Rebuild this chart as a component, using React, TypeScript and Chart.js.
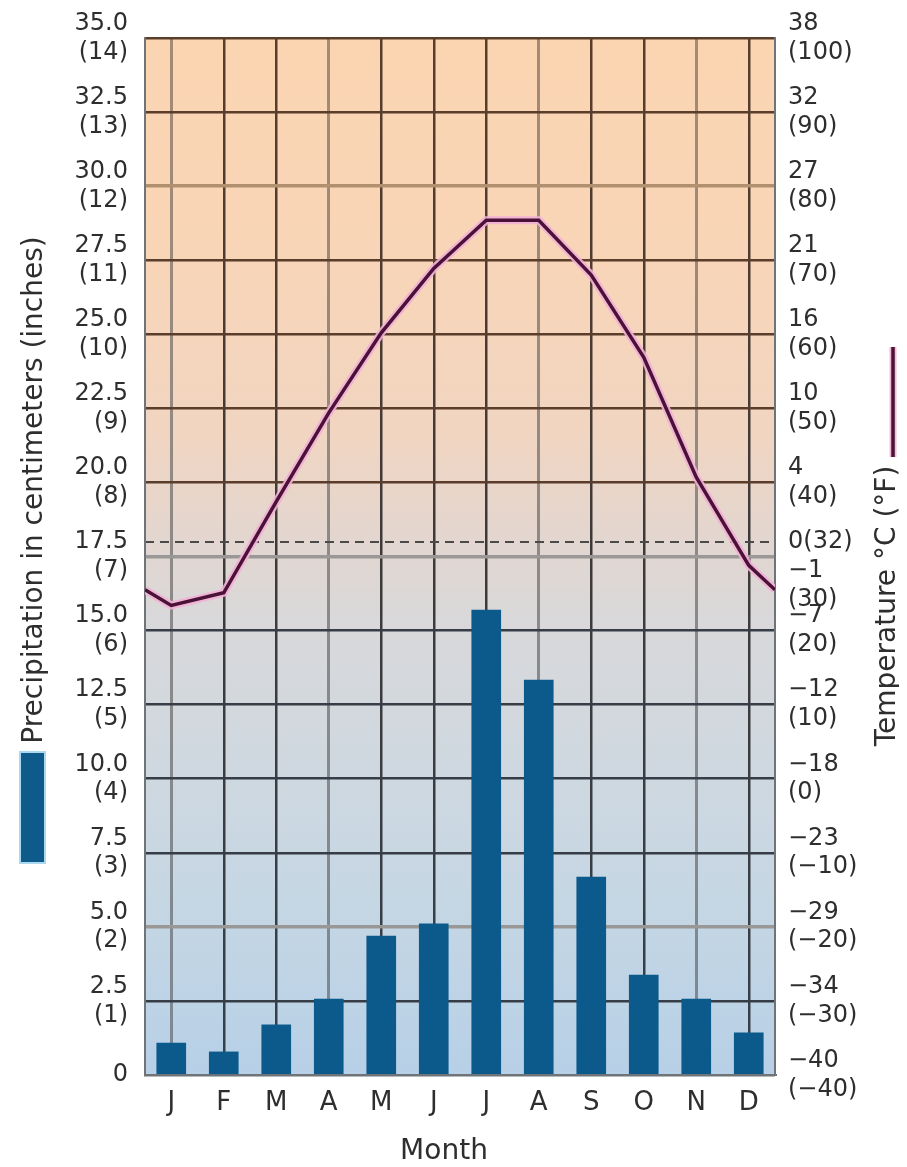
import React, { useEffect, useRef } from "react";
import { Chart, registerables } from "chart.js";

Chart.register(...registerables);

// ---------- data ----------
const months = ["J", "F", "M", "A", "M", "J", "J", "A", "S", "O", "N", "D"];
// precipitation, centimetres
const precipCm = [1.08, 0.78, 1.69, 2.56, 4.69, 5.1, 15.69, 13.33, 6.68, 3.37, 2.56, 1.42];
// mean monthly temperature, °F
const tempF = [23.4, 25.1, 37.4, 49.4, 60.2, 68.9, 75.4, 75.4, 68.0, 56.9, 40.7, 28.8];
// temperature curve where it meets the left and right frame (°F)
const tempEdgeF = [25.5, 25.5];

// left axis ticks
const precipTicks = [0, 2.5, 5, 7.5, 10, 12.5, 15, 17.5, 20, 22.5, 25, 27.5, 30, 32.5, 35];
const precipCmLabels = ["0", "2.5", "5.0", "7.5", "10.0", "12.5", "15.0", "17.5", "20.0", "22.5", "25.0", "27.5", "30.0", "32.5", "35.0"];
const precipInchLabels = ["", "(1)", "(2)", "(3)", "(4)", "(5)", "(6)", "(7)", "(8)", "(9)", "(10)", "(11)", "(12)", "(13)", "(14)"];

// right axis ticks (°F positions) and °C labels
const tempTicksF = [-40, -30, -20, -10, 0, 10, 20, 30, 32, 40, 50, 60, 70, 80, 90, 100];
const tempTicksC = ["−40", "−34", "−29", "−23", "−18", "−12", "−7", "−1", "0", "4", "10", "16", "21", "27", "32", "38"];
const tempTicksFLabels = ["(−40)", "(−30)", "(−20)", "(−10)", "(0)", "(10)", "(20)", "(30)", "(32)", "(40)", "(50)", "(60)", "(70)", "(80)", "(90)", "(100)"];

const FONT = "'DejaVu Sans', 'Liberation Sans', sans-serif";
const TEXT = "#2e2e2e";

const W = 891;
const H = 1151;

export default function App() {
  const ref = useRef<HTMLCanvasElement | null>(null);

  useEffect(() => {
    const canvas = ref.current;
    if (!canvas) return;

    const lineData = [
      { x: 0, y: tempEdgeF[0] },
      ...tempF.map((v, i) => ({ x: i + 0.5, y: v })),
      { x: 12, y: tempEdgeF[1] },
    ];

    const vGrad = (c: any, stops: [number, string][], fallback: string) => {
      const chart = c.chart;
      const area = chart.chartArea;
      if (!area) return fallback;
      const g = chart.ctx.createLinearGradient(0, area.top, 0, area.bottom);
      stops.forEach(([o, col]) => g.addColorStop(o, col));
      return g;
    };

    const bgPlugin = {
      id: "bgPlugin",
      beforeDraw(chart: any) {
        const { ctx, chartArea } = chart;
        if (!chartArea) return;
        const g = ctx.createLinearGradient(0, chartArea.top, 0, chartArea.bottom);
        g.addColorStop(0, "#fbd5b2");
        g.addColorStop(0.2, "#f9d5b7");
        g.addColorStop(0.38, "#f1d5c1");
        g.addColorStop(0.48, "#e3d6cf");
        g.addColorStop(0.56, "#d9d8da");
        g.addColorStop(0.7, "#cfd8e0");
        g.addColorStop(0.85, "#c4d6e4");
        g.addColorStop(1, "#b7d0e7");
        ctx.save();
        ctx.fillStyle = g;
        ctx.fillRect(chartArea.left, chartArea.top, chartArea.right - chartArea.left, chartArea.bottom - chartArea.top);
        ctx.restore();
      },
    };

    const decoPlugin = {
      id: "decoPlugin",
      afterDraw(chart: any) {
        const { ctx } = chart;
        ctx.save();
        ctx.fillStyle = TEXT;
        ctx.font = `28px ${FONT}`;
        ctx.textBaseline = "alphabetic";
        ctx.textAlign = "center";
        // left axis title
        ctx.save();
        ctx.translate(34, 482);
        ctx.rotate(-Math.PI / 2);
        ctx.fillText("Precipitation in centimeters (inches)", 0, 0);
        ctx.restore();
        // right axis title
        ctx.save();
        ctx.translate(887, 598);
        ctx.rotate(-Math.PI / 2);
        ctx.fillText("Temperature °C (°F)", 0, 0);
        ctx.restore();
        // x axis title
        ctx.textBaseline = "middle";
        ctx.fillText("Month", 436, 1144);
        // legend marker: precipitation box
        ctx.fillStyle = "#a9d8f0";
        ctx.fillRect(11, 743, 27, 113);
        ctx.fillStyle = "#0d5a8b";
        ctx.fillRect(13, 745, 23, 109);
        // legend marker: temperature line
        ctx.lineCap = "butt";
        ctx.strokeStyle = "rgba(242,176,214,0.9)";
        ctx.lineWidth = 7;
        ctx.beginPath();
        ctx.moveTo(885, 339);
        ctx.lineTo(885, 449);
        ctx.stroke();
        ctx.strokeStyle = "#4a1236";
        ctx.lineWidth = 3.5;
        ctx.beginPath();
        ctx.moveTo(885, 339);
        ctx.lineTo(885, 449);
        ctx.stroke();
        ctx.restore();
      },
    };

    const lightH = [5, 17.5, 30];
    const lightV = [0, 3, 7, 10];

    const chart = new Chart(canvas, {
      type: "bar",
      data: {
        labels: months,
        datasets: [
          {
            type: "bar",
            label: "Precipitation",
            data: precipCm,
            xAxisID: "x",
            yAxisID: "yP",
            backgroundColor: "#0c5a8b",
            barThickness: 29,
            grouped: false,
            order: 3,
          },
          {
            type: "line",
            label: "Temperature halo",
            data: lineData as any,
            xAxisID: "xL",
            yAxisID: "yT",
            borderColor: "rgba(242,176,214,0.9)",
            borderWidth: 8,
            pointRadius: 0,
            tension: 0,
            fill: false,
            order: 2,
          },
          {
            type: "line",
            label: "Temperature",
            data: lineData as any,
            xAxisID: "xL",
            yAxisID: "yT",
            borderColor: "#4a1236",
            borderWidth: 3.5,
            pointRadius: 0,
            tension: 0,
            fill: false,
            order: 1,
          },
        ],
      },
      options: {
        responsive: false,
        animation: false,
        events: [],
        layout: { padding: { top: 30, left: 0, right: 0, bottom: 0 } },
        plugins: {
          legend: { display: false },
          tooltip: { enabled: false },
          title: { display: false },
        },
        scales: {
          x: {
            type: "category",
            offset: true,
            grid: {
              offset: false,
              drawTicks: false,
              lineWidth: (c: any) => (lightV.includes(c.index) ? 3 : 2.5),
              color: (c: any) =>
                lightV.includes(c.index)
                  ? vGrad(c, [[0, "#a68a72"], [0.5, "#8d8987"], [1, "#7b8894"]], "#888")
                  : vGrad(c, [[0, "#5a3d2b"], [0.5, "#3d3939"], [1, "#34414c"]], "#444"),
            },
            border: { display: true, color: "#6f7478", width: 2 },
            ticks: {
              color: TEXT,
              font: { family: FONT, size: 26, lineHeight: 1.2 },
              padding: 13,
              maxRotation: 0,
              autoSkip: false,
            },
            afterFit: (s: any) => {
              s.height = 84;
              s.paddingLeft = 0;
              s.paddingRight = 0;
            },
          },
          xL: {
            type: "linear",
            display: false,
            offset: false,
            min: 0,
            max: 12,
            grid: { offset: false },
          },
          yP: {
            type: "linear",
            position: "left",
            min: 0,
            max: 35,
            afterBuildTicks: (s: any) => {
              s.ticks = precipTicks.map((v) => ({ value: v }));
            },
            grid: {
              drawTicks: false,
              lineWidth: (c: any) => (c.tick && lightH.includes(c.tick.value) ? 3.5 : 2.5),
              color: (c: any) => {
                const v = c.tick ? c.tick.value : 0;
                if (v === 0) return "#6f7478";
                if (lightH.includes(v)) return v > 20 ? "#b0906f" : "#9a9896";
                return v > 18 ? "#5a3d2b" : "#363d46";
              },
            },
            border: { display: true, color: "#6f7478", width: 2 },
            ticks: {
              autoSkip: false,
              color: TEXT,
              padding: 17,
              font: { family: FONT, size: 24, lineHeight: 1.2 },
              callback: (_v: any, i: number) => (i === 0 ? precipCmLabels[0] : [precipCmLabels[i], precipInchLabels[i]]),
            },
            afterFit: (s: any) => {
              s.width = 137;
              s.paddingTop = 0;
              s.paddingBottom = 0;
            },
          },
          yT: {
            type: "linear",
            position: "right",
            min: -40,
            max: 100,
            afterBuildTicks: (s: any) => {
              s.ticks = tempTicksF.map((v) => ({ value: v }));
            },
            grid: {
              drawTicks: false,
              drawOnChartArea: true,
              lineWidth: (c: any) => (c.tick && c.tick.value === 32 ? 2 : 0),
              color: (c: any) => (c.tick && c.tick.value === 32 ? "#4a4a4a" : "rgba(0,0,0,0)"),
            },
            border: { display: true, color: "#6f7478", width: 2, dash: [9, 6] },
            ticks: {
              autoSkip: false,
              color: TEXT,
              padding: 13,
              font: { family: FONT, size: 24, lineHeight: 1.2 },
              callback: (_v: any, i: number) => {
                const f = tempTicksF[i];
                if (f === 32) return `${tempTicksC[i]}${tempTicksFLabels[i]}`;
                if (f === 30) return ["", "", tempTicksC[i], tempTicksFLabels[i]];
                return [tempTicksC[i], tempTicksFLabels[i]];
              },
            },
            afterFit: (s: any) => {
              s.width = 124;
              s.paddingTop = 0;
              s.paddingBottom = 0;
            },
          },
        },
      } as any,
      plugins: [bgPlugin, decoPlugin],
    });

    return () => {
      chart.destroy();
    };
  }, []);

  return (
    <div style={{ width: W, height: H }}>
      <canvas ref={ref} width={W} height={H} style={{ display: "block" }} />
    </div>
  );
}
